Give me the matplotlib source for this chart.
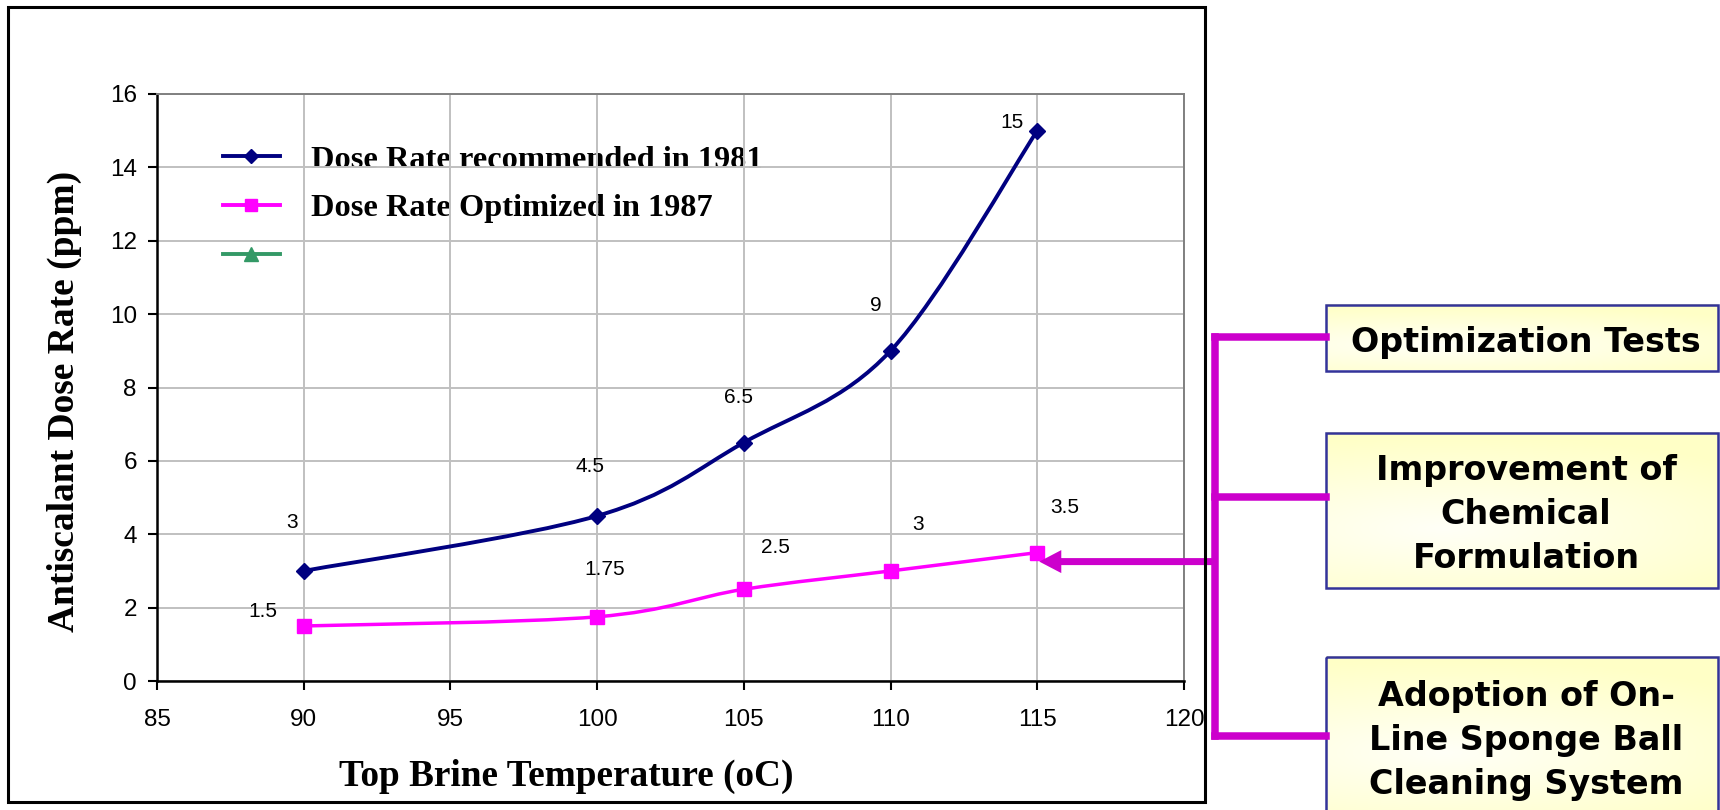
import numpy as np
import matplotlib
matplotlib.use("Agg")
import matplotlib.pyplot as plt
from matplotlib.path import Path
from matplotlib.patches import PathPatch, Rectangle, FancyArrow
from matplotlib.lines import Line2D

# ---------------- data ----------------
temps = [90, 100, 105, 110, 115]
dose_1981 = [3, 4.5, 6.5, 9, 15]
dose_1987 = [1.5, 1.75, 2.5, 3, 3.5]
series_names = ["Dose Rate recommended in 1981", "Dose Rate Optimized in 1987", " "]
x_ticks = [85, 90, 95, 100, 105, 110, 115, 120]
y_ticks = [0, 2, 4, 6, 8, 10, 12, 14, 16]
x_label = "Top Brine Temperature (oC)"
y_label = "Antiscalant Dose Rate (ppm)"
box_texts = ["Optimization Tests",
             "Improvement of\nChemical\nFormulation",
             "Adoption of On-\nLine Sponge Ball\nCleaning System"]

# ---------------- styles ----------------
NAVY = "#000080"
MAGENTA = "#FF00FF"
GREEN = "#339966"
BRACKET = "#CC00CC"
BOXEDGE = "#333399"
# data label offsets in pixels (dx, dy)
off_1981 = [(-12, 48), (-7, 49), (-5, 45), (-15, 45), (-25, 8)]
off_1987 = [(-41, 14), (8, 47), (32, 42), (27, 46), (27, 45)]

W, H = 1720, 810
fig = plt.figure(figsize=(W / 100, H / 100), dpi=100)
fig.patch.set_facecolor("white")

L, R, T, B = 157, 1184, 94, 681
ax = fig.add_axes([L / W, (H - B) / H, (R - L) / W, (B - T) / H])
ax.set_xlim(85, 120)
ax.set_ylim(0, 16)
ax.set_xticks(x_ticks)
ax.set_yticks(y_ticks)
ax.set_axisbelow(True)
ax.grid(True, color="#C0C0C0", lw=1.4)
for s in ["left", "bottom"]:
    ax.spines[s].set_color("black")
    ax.spines[s].set_linewidth(1.8)
for s in ["top", "right"]:
    ax.spines[s].set_color("#808080")
    ax.spines[s].set_linewidth(1.4)
ax.tick_params(axis="both", direction="out", length=6.5, width=1.5, color="black",
               labelsize=17.5)
ax.tick_params(axis="y", pad=8)
ax.tick_params(axis="x", pad=14)
for lab in ax.get_xticklabels() + ax.get_yticklabels():
    lab.set_fontfamily("Liberation Sans")


def smooth_path(x, y):
    pts = np.column_stack([x, y]).astype(float)
    n = len(pts)
    verts = [pts[0]]
    codes = [Path.MOVETO]
    for i in range(n - 1):
        p0 = pts[i - 1] if i > 0 else pts[i]
        p1 = pts[i]
        p2 = pts[i + 1]
        p3 = pts[i + 2] if i + 2 < n else pts[i + 1]
        c1 = p1 + (p2 - p0) / 6.0
        c2 = p2 - (p3 - p1) / 6.0
        verts += [c1, c2, p2]
        codes += [Path.CURVE4] * 3
    return Path(verts, codes)


ax.add_patch(PathPatch(smooth_path(temps, dose_1981), fill=False, edgecolor=NAVY,
                       lw=2.8, zorder=3, capstyle="round"))
ax.add_patch(PathPatch(smooth_path(temps, dose_1987), fill=False, edgecolor=MAGENTA,
                       lw=2.5, zorder=3, capstyle="round"))
ax.plot(temps, dose_1981, ls="none", marker="D", ms=8.5, color=NAVY, zorder=4)
ax.plot(temps, dose_1987, ls="none", marker="s", ms=10, color=MAGENTA, zorder=4)

for xv, yv, (dx, dy) in zip(temps, dose_1981, off_1981):
    ax.annotate(f"{yv:g}", (xv, yv), xytext=(dx, dy), textcoords="offset pixels",
                ha="center", va="center", fontsize=15, family="Liberation Sans")
for xv, yv, (dx, dy) in zip(temps, dose_1987, off_1987):
    ax.annotate(f"{yv:g}", (xv, yv), xytext=(dx, dy), textcoords="offset pixels",
                ha="center", va="center", fontsize=15, family="Liberation Sans")

# legend
handles = [Line2D([], [], color=NAVY, lw=2.8, marker="D", ms=7.5),
           Line2D([], [], color=MAGENTA, lw=2.8, marker="s", ms=9),
           Line2D([], [], color=GREEN, lw=2.8, marker="^", ms=10)]
leg = ax.legend(handles, series_names, loc="upper left",
                bbox_to_anchor=(223 / W, 1 - 145 / H), bbox_transform=fig.transFigure,
                frameon=False, borderpad=0, borderaxespad=0, handlelength=1.75,
                handletextpad=0.98, labelspacing=0.59,
                prop={"family": "Liberation Serif", "weight": "bold", "size": 23.3})
leg.set_zorder(0.4)

# axis labels
ax.set_xlabel(x_label, family="Liberation Serif", weight="bold", fontsize=26.8)
ax.xaxis.set_label_coords((566.5 - L) / (R - L), (B - 776) / (B - T))
ax.xaxis.label.set_va("center")
ax.set_ylabel(y_label, family="Liberation Serif", weight="bold", fontsize=27)
ax.yaxis.set_label_coords((64 - L) / (R - L), (B - 401.5) / (B - T))
ax.yaxis.label.set_va("center")

# ---------------- overlay in pixel coordinates ----------------
ov = fig.add_axes([0, 0, 1, 1], zorder=5)
ov.set_xlim(0, W)
ov.set_ylim(H, 0)
ov.axis("off")

# boxes
boxes = [(1326, 304.7, 370.5), (1326, 432.7, 587.7), (1326, 656.7, 812)]
box_right = 1718
gy, gx = np.mgrid[0:1:80j, 0:1:200j]
tt = np.clip(np.sqrt(((gx - 0.3) / 1.0) ** 2 + ((gy - 0.62) / 0.6) ** 2), 0, 1)
yellow = np.array([1.0, 1.0, 0.78])
white = np.array([1.0, 1.0, 0.97])
grad = white[None, None, :] * (1 - tt[..., None]) + yellow[None, None, :] * tt[..., None]
for (bx, top, bot), txt in zip(boxes, box_texts):
    ov.imshow(grad, extent=(bx, box_right, bot, top), aspect="auto",
              interpolation="bilinear", zorder=1)
    ov.add_patch(Rectangle((bx, top), box_right - bx, bot - top, fill=False,
                           edgecolor=BOXEDGE, lw=1.8, zorder=2))
    cy = (top + bot) / 2 if bot < 800 else 736
    ov.text(1526, cy + 4.5, txt, ha="center", va="center",
            multialignment="center", family="DejaVu Sans", weight="bold",
            fontsize=24, linespacing=1.43, zorder=3)
ov.set_xlim(0, W)
ov.set_ylim(H, 0)

# bracket
bx_v = 1215
arms = [336.8, 496.7, 736.4]
ov.plot([bx_v, bx_v], [arms[0], arms[-1]], color=BRACKET, lw=5.4,
        solid_capstyle="projecting", zorder=2)
for ya in arms:
    ov.plot([bx_v, 1326], [ya, ya], color=BRACKET, lw=5.4,
            solid_capstyle="projecting", zorder=2)

# arrow toward the last optimized point
tip_disp = ax.transData.transform((temps[-1], dose_1987[-1]))
tip_x = tip_disp[0] + 2
tip_y = H - tip_disp[1] + 9
ov.add_patch(FancyArrow(bx_v, tip_y, tip_x - bx_v, 0, width=7, head_width=23,
                        head_length=22, length_includes_head=True,
                        color=BRACKET, lw=0, zorder=2))

# outer chart border
ov.add_patch(Rectangle((7.5, 7), 1205 - 7.5, 802 - 7, fill=False, edgecolor="black",
                       lw=2.2, zorder=4))

fig.savefig("out.png", dpi=100)
